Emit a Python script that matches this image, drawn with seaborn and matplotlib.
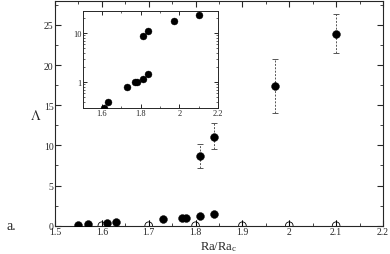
import numpy as np
import pandas as pd
import matplotlib
matplotlib.use("Agg")
import matplotlib.pyplot as plt
from matplotlib.ticker import MultipleLocator, FuncFormatter, LogLocator
import seaborn as sns

# filled points (Lambda vs Ra/Ra_c)
ra_filled = [1.55, 1.57, 1.61, 1.63, 1.73, 1.77, 1.78, 1.81, 1.84, 1.81, 1.84, 1.97, 2.10]
lam_filled = [0.1, 0.2, 0.3, 0.4, 0.8, 1.0, 1.0, 1.15, 1.45, 8.7, 11.1, 17.4, 23.9]

# points with error bars
ra_err = [1.81, 1.84, 1.97, 2.10]
lam_err = [8.7, 11.1, 17.4, 23.9]
err_low = [1.5, 1.6, 3.4, 2.4]
err_high = [1.5, 1.7, 3.3, 2.5]

# open circles at zero
ra_open = [1.6, 1.7, 1.8, 1.9, 2.0, 2.1]
lam_open = [0, 0, 0, 0, 0, 0]

sns.set_style("ticks")
plt.rcParams['font.family'] = ['Liberation Serif', 'DejaVu Serif']
plt.rcParams['font.size'] = 7
plt.rcParams['mathtext.fontset'] = 'stix'

fig = plt.figure(figsize=(3.9, 2.55), dpi=100)
ax = fig.add_axes([0.141, 0.111, 0.841, 0.882])

# open circles with small bars
ax.errorbar(ra_open, lam_open, yerr=[[0.3] * 6, [0.7] * 6], fmt='none',
            ecolor='black', elinewidth=0.6, capsize=0, zorder=2)
sns.scatterplot(x=ra_open, y=lam_open, ax=ax, marker='o', s=30,
                facecolor='none', edgecolor='black', linewidth=0.6, zorder=3)

# dashed error bars
eb = ax.errorbar(ra_err, lam_err, yerr=[err_low, err_high], fmt='none',
                 ecolor='#555555', elinewidth=0.7, capsize=2.5, capthick=0.7, zorder=2)
for lc in eb[2]:
    lc.set_linestyle((0, (2, 1.5)))

sns.scatterplot(x=ra_filled, y=lam_filled, ax=ax, marker='o', s=32,
                color='black', edgecolor='black', linewidth=0.3, zorder=4)

ax.set_xlim(1.5, 2.2)
ax.set_ylim(0, 28)
ax.xaxis.set_major_locator(MultipleLocator(0.1))
ax.xaxis.set_minor_locator(MultipleLocator(0.05))
ax.yaxis.set_major_locator(MultipleLocator(5))
ax.yaxis.set_minor_locator(MultipleLocator(2.5))
ax.xaxis.set_major_formatter(FuncFormatter(lambda v, p: f"{v:g}"))
ax.tick_params(which='both', direction='in', top=True, right=True, labelsize=7, pad=1)
ax.tick_params(which='major', length=4, width=0.8)
ax.tick_params(which='minor', length=2, width=0.6)
for s in ax.spines.values():
    s.set_linewidth(0.8)

ax.set_xlabel(r"Ra/Ra$_\mathregular{c}$", fontsize=9, labelpad=2)
ax.set_ylabel(r"$\Lambda$", fontsize=10, rotation=0, va='center', ha='center')
ax.yaxis.set_label_coords(-0.06, 0.49)
fig.text(0.03, 0.11, "a.", fontsize=10, va='center', ha='center')

# inset with log scale
axi = fig.add_axes([0.212, 0.573, 0.347, 0.379])
sns.scatterplot(x=ra_filled, y=lam_filled, ax=axi, marker='o', s=25,
                color='black', edgecolor='black', linewidth=0.3, zorder=4)
axi.set_yscale('log')
axi.set_xlim(1.5, 2.2)
axi.set_ylim(0.3, 28)
axi.xaxis.set_major_locator(MultipleLocator(0.2))
axi.xaxis.set_minor_locator(MultipleLocator(0.1))
axi.xaxis.set_major_formatter(FuncFormatter(lambda v, p: f"{v:g}" if v > 1.55 else ""))
axi.yaxis.set_major_locator(LogLocator(base=10, numticks=5))
axi.yaxis.set_minor_locator(LogLocator(base=10, subs=np.arange(2, 10), numticks=10))
axi.yaxis.set_major_formatter(FuncFormatter(lambda v, p: f"{v:g}"))
axi.yaxis.set_minor_formatter(FuncFormatter(lambda v, p: ""))
axi.tick_params(which='both', direction='in', top=True, right=True, labelsize=6, pad=1)
axi.tick_params(which='major', length=3, width=0.7)
axi.tick_params(which='minor', length=1.5, width=0.5)
for s in axi.spines.values():
    s.set_linewidth(0.7)
axi.set_xlabel("")
axi.set_ylabel("")

fig.savefig("out.png", dpi=100)
